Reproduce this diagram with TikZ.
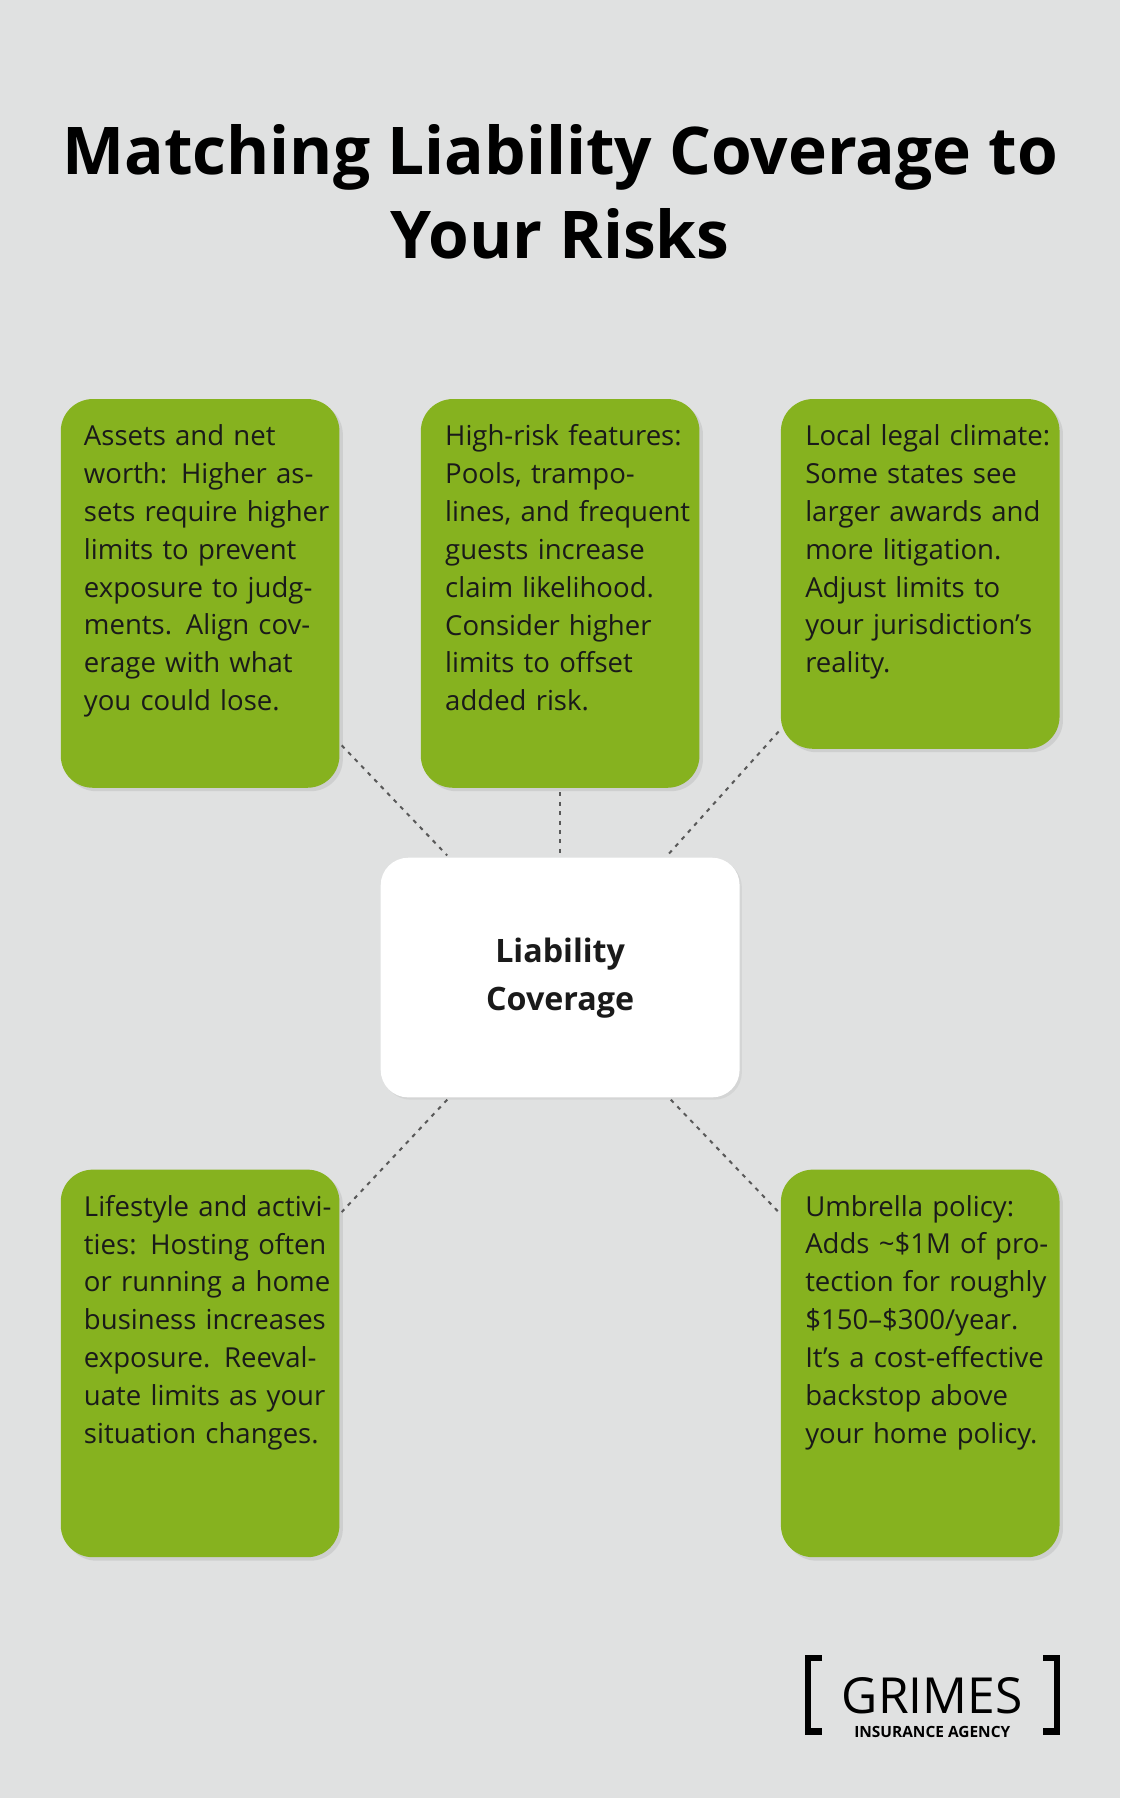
\documentclass[tikz,border=0pt]{standalone}
\usepackage{fontspec}
\setmainfont{Open Sans}
\usetikzlibrary{shadows}
\definecolor{bg}{HTML}{E0E1E1}
\definecolor{grn}{HTML}{86B21F}
\definecolor{txt}{HTML}{1A1A1A}
\begin{document}
\begin{tikzpicture}[x=0.03cm,y=-0.03cm,
 box/.style={fill=grn,rounded corners=0.84cm,drop shadow={shadow xshift=0.09cm,shadow yshift=-0.09cm,opacity=0.18}},
 body/.style={anchor=north west,text width=6.6cm,align=left,inner sep=0pt,text=txt,font=\fontsize{20.5}{28.2}\selectfont},
 dot/.style={draw=gray!70!black,line width=1.5pt,dash pattern=on 3pt off 4pt}]
\fill[bg] (0,0) rectangle (977,1568);
\node[inner sep=0pt,align=center,font=\bfseries\fontsize{49}{62.3}\selectfont,text=black] (title) at (488.5,167) {Matching Liability Coverage to\\Your Risks};
% boxes
\path[box] (53,348) rectangle (296,687);
\path[box] (367,348) rectangle (610,687);
\path[box] (681,348) rectangle (924,653);
\path[box] (53,1020) rectangle (296,1358);
\path[box] (681,1020) rectangle (924,1358);
\path[fill=white,rounded corners=0.72cm,drop shadow={shadow xshift=0.06cm,shadow yshift=-0.06cm,opacity=0.12}] (332,748) rectangle (645,957);
\node[align=center,inner sep=0pt,font=\bfseries\fontsize{24}{35}\selectfont,text=txt] (c) at (488.5,853) {Liability\\Coverage};
\node[body] (a) at (73,370) {Assets and net worth: Higher assets require higher limits to prevent exposure to judgments. Align coverage with what you could lose.};
\node[body] (b) at (388,370) {High-risk features: Pools, trampolines, and frequent guests increase claim likelihood. Consider higher limits to offset added risk.};
\node[body] (d) at (702,370) {Local legal climate: Some states see larger awards and more litigation. Adjust limits to your jurisdiction’s reality.};
\node[body] (e) at (73,1042) {Lifestyle and activities: Hosting often or running a home business increases exposure. Reevaluate limits as your situation changes.};
\node[body] (f) at (702,1042) {Umbrella policy: Adds \textasciitilde\$1M of protection for roughly \$150–\$300/year. It’s a cost-effective backstop above your home policy.};
% connectors
\coordinate (a1) at (298,650); \coordinate (c1) at (390,746);
\coordinate (b1) at (488,691); \coordinate (c2) at (488,745);
\coordinate (d1) at (679,638); \coordinate (c3) at (582,746);
\coordinate (c4) at (390,959); \coordinate (e1) at (298,1057);
\coordinate (c5) at (585,959); \coordinate (f1) at (679,1057);
\draw[dot] (a1)--(c1); \draw[dot] (b1)--(c2); \draw[dot] (d1)--(c3);
\draw[dot] (c4)--(e1); \draw[dot] (c5)--(f1);
% logo
\draw[line width=4.5pt,black] (717,1446)--(705,1446)--(705,1510)--(717,1510);
\draw[line width=4.5pt,black] (910,1446)--(922,1446)--(922,1510)--(910,1510);
\node[inner sep=0pt,font=\fontsize{37}{37}\selectfont,text=black] (g) at (813,1479) {GRIMES};
\node[inner sep=0pt,font=\bfseries\fontsize{11.5}{12}\selectfont,text=black] (h) at (813,1510) {INSURANCE AGENCY};
\end{tikzpicture}
\end{document}
